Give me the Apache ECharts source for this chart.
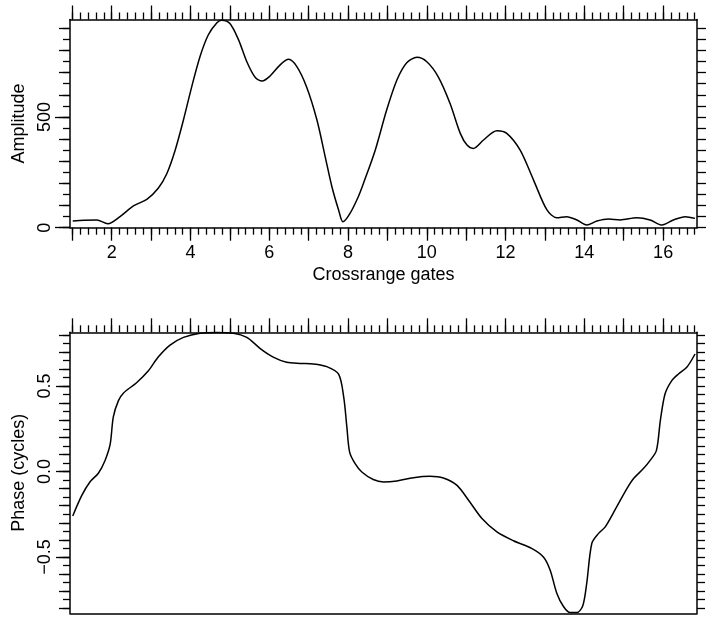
<!DOCTYPE html>
<html>
<head>
<meta charset="utf-8">
<script src="https://cdn.jsdelivr.net/npm/echarts@6/dist/echarts.min.js"></script>
<style>
  html, body { margin: 0; padding: 0; background: #fff; }
  #chart { width: 707px; height: 617px; }
</style>
</head>
<body>
<div id="chart"></div>
<script>
// Amplitude profile across crossrange gates
const gatesAmp = [1.01, 1.30, 1.62, 1.90, 2.21, 2.55, 2.89, 3.18, 3.40, 3.61, 3.82, 4.03, 4.24, 4.45, 4.67, 4.79, 5.00, 5.22, 5.43, 5.64, 5.82, 6.02, 6.27, 6.49, 6.70, 6.95, 7.21, 7.42, 7.59, 7.76, 7.87, 8.05, 8.26, 8.39, 8.69, 8.98, 9.24, 9.49, 9.75, 10.00, 10.29, 10.59, 10.85, 11.02, 11.18, 11.44, 11.78, 12.03, 12.37, 12.71, 13.05, 13.30, 13.55, 13.81, 14.06, 14.32, 14.61, 14.91, 15.33, 15.67, 15.97, 16.26, 16.56, 16.81];
const amplitude = [30, 34, 35, 18, 50, 98, 128, 178, 245, 350, 486, 636, 772, 870, 925, 937, 922, 848, 749, 679, 662, 685, 734, 760, 727, 634, 486, 320, 185, 80, 27, 65, 140, 200, 350, 531, 667, 745, 769, 749, 681, 561, 426, 373, 358, 396, 438, 426, 350, 215, 80, 45, 50, 35, 12, 30, 39, 35, 45, 35, 12, 35, 50, 42];

// Phase profile across crossrange gates
const gatesPhase = [1.01, 1.24, 1.45, 1.66, 1.83, 1.96, 2.04, 2.17, 2.30, 2.63, 2.93, 3.18, 3.48, 3.82, 4.24, 4.67, 5.09, 5.43, 5.77, 6.10, 6.44, 6.78, 7.12, 7.46, 7.76, 7.89, 7.97, 8.04, 8.18, 8.35, 8.64, 8.90, 9.24, 9.66, 10.08, 10.42, 10.76, 11.06, 11.40, 11.78, 12.20, 12.66, 12.96, 13.13, 13.30, 13.47, 13.64, 13.81, 13.96, 14.06, 14.19, 14.36, 14.53, 14.82, 15.08, 15.25, 15.50, 15.67, 15.83, 15.93, 16.05, 16.22, 16.39, 16.60, 16.81];
const phase = [-0.26, -0.14, -0.06, -0.01, 0.065, 0.16, 0.32, 0.415, 0.46, 0.52, 0.59, 0.67, 0.74, 0.785, 0.81, 0.814, 0.81, 0.785, 0.72, 0.67, 0.64, 0.633, 0.63, 0.614, 0.57, 0.435, 0.26, 0.114, 0.046, -0.003, -0.047, -0.061, -0.055, -0.036, -0.028, -0.038, -0.08, -0.168, -0.275, -0.353, -0.405, -0.45, -0.50, -0.576, -0.712, -0.79, -0.826, -0.826, -0.786, -0.654, -0.42, -0.362, -0.324, -0.207, -0.10, -0.041, 0.017, 0.065, 0.124, 0.30, 0.455, 0.532, 0.571, 0.61, 0.688];

// Tick labels
const gateLabels = [2, 4, 6, 8, 10, 12, 14, 16];
const ampLabels = [0, 500];
const phaseLabels = [-0.5, 0, 0.5];

// Axis ranges
const X_MIN = 0.94, X_MAX = 16.86;
const AMP_MIN = 0, AMP_MAX = 940;
const PH_MIN = -0.83, PH_MAX = 0.815;

// Tick positions
function steps(from, to, step) {
  const out = [];
  const n = Math.round((to - from) / step);
  for (let i = 0; i <= n; i++) out.push(Math.round((from + i * step) * 1000) / 1000);
  return out;
}
const gateMajor = steps(1, 16, 1);
const gateMinor = steps(1, 16.8, 0.2);
const ampMajor = [0, 500];
const amp100 = steps(0, 900, 100);
const amp50 = steps(0, 900, 50);
const phMajor = [-0.5, 0, 0.5];
const ph10 = steps(-0.8, 0.8, 0.1);
const ph05 = steps(-0.8, 0.8, 0.05);

const FONT = '"Liberation Sans", Arial, Helvetica, sans-serif';
const INK = '#000';

function tickAxis(gridIndex, position, min, max, ticks, len, withLine) {
  return {
    type: 'value', gridIndex, position, min, max,
    axisLine: { show: !!withLine, onZero: false, lineStyle: { color: INK, width: 1.5 } },
    axisTick: { show: true, inside: false, length: len, customValues: ticks, lineStyle: { color: INK, width: 1.3 } },
    axisLabel: { show: false },
    splitLine: { show: false },
    minorTick: { show: false }
  };
}

const xAxes = [
  // top panel, bottom edge: labels + integer ticks
  Object.assign(tickAxis(0, 'bottom', X_MIN, X_MAX, gateMajor, 13, true), {
    axisLabel: {
      show: true, customValues: gateLabels, margin: 16,
      color: INK, fontSize: 18, fontFamily: FONT,
      formatter: v => String(Math.round(v))
    },
    name: 'Crossrange gates', nameLocation: 'middle', nameGap: 38,
    nameTextStyle: { color: INK, fontSize: 18, fontFamily: FONT }
  }),
  tickAxis(0, 'bottom', X_MIN, X_MAX, gateMinor, 7, false),
  // top panel, top edge
  tickAxis(0, 'top', X_MIN, X_MAX, gateMajor, 14, true),
  tickAxis(0, 'top', X_MIN, X_MAX, gateMinor, 7, false),
  // bottom panel, top edge
  tickAxis(1, 'top', X_MIN, X_MAX, gateMajor, 14, true),
  tickAxis(1, 'top', X_MIN, X_MAX, gateMinor, 7, false),
  // bottom panel, bottom edge (plain line)
  tickAxis(1, 'bottom', X_MIN, X_MAX, [], 0, true)
];

const yAxes = [
  // top panel, left edge
  Object.assign(tickAxis(0, 'left', AMP_MIN, AMP_MAX, ampMajor, 15, true), {
    axisLabel: {
      show: true, customValues: ampLabels, margin: 16, rotate: 90,
      color: INK, fontSize: 18, fontFamily: FONT
    },
    name: 'Amplitude', nameLocation: 'middle', nameGap: 41,
    nameTextStyle: { color: INK, fontSize: 18, fontFamily: FONT }
  }),
  tickAxis(0, 'left', AMP_MIN, AMP_MAX, amp100, 11, false),
  tickAxis(0, 'left', AMP_MIN, AMP_MAX, amp50, 7, false),
  // top panel, right edge
  tickAxis(0, 'right', AMP_MIN, AMP_MAX, amp50, 9, true),
  // bottom panel, left edge
  Object.assign(tickAxis(1, 'left', PH_MIN, PH_MAX, phMajor, 14, true), {
    axisLabel: {
      show: true, customValues: phaseLabels, margin: 16, rotate: 90,
      color: INK, fontSize: 18, fontFamily: FONT,
      formatter: v => (v < 0 ? '\u2212' : '') + Math.abs(v).toFixed(1)
    },
    name: 'Phase (cycles)', nameLocation: 'middle', nameGap: 42,
    nameTextStyle: { color: INK, fontSize: 18, fontFamily: FONT }
  }),
  tickAxis(1, 'left', PH_MIN, PH_MAX, ph10, 11, false),
  tickAxis(1, 'left', PH_MIN, PH_MAX, ph05, 7, false),
  // bottom panel, right edge
  tickAxis(1, 'right', PH_MIN, PH_MAX, ph05, 8, true)
];

const zip = (xs, ys) => xs.map((x, i) => [x, ys[i]]);

const chart = echarts.init(document.getElementById('chart'), null, { renderer: 'canvas' });
chart.setOption({
  animation: false,
  backgroundColor: '#fff',
  grid: [
    { left: 70, top: 19.5, width: 627, height: 208.2, containLabel: false },
    { left: 70, top: 332.3, width: 627, height: 281, containLabel: false }
  ],
  xAxis: xAxes,
  yAxis: yAxes,
  series: [
    {
      type: 'line', xAxisIndex: 0, yAxisIndex: 0,
      data: zip(gatesAmp, amplitude),
      showSymbol: false, smooth: 0.3, clip: false,
      lineStyle: { color: INK, width: 1.5 }
    },
    {
      type: 'line', xAxisIndex: 4, yAxisIndex: 4,
      data: zip(gatesPhase, phase),
      showSymbol: false, smooth: 0.3, clip: false,
      lineStyle: { color: INK, width: 1.5 }
    }
  ]
});
</script>
</body>
</html>
